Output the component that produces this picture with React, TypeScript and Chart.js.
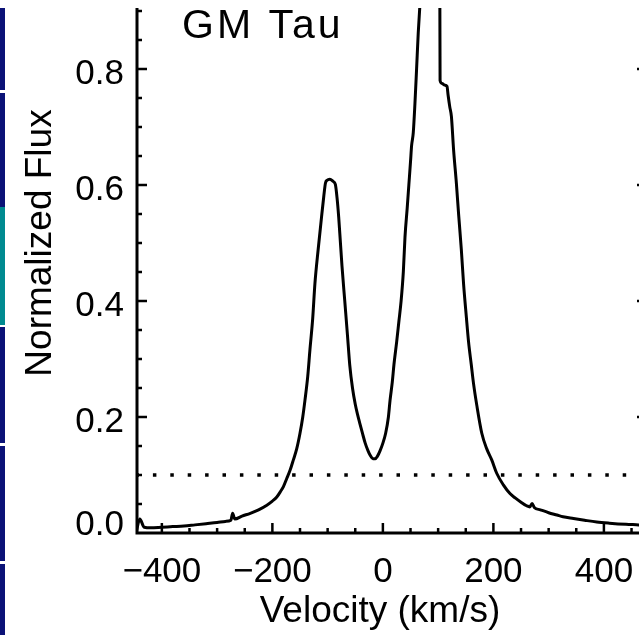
import React, { useEffect, useRef } from "react";
import { Chart, registerables } from "chart.js";

Chart.register(...registerables);

// ---- data ----
const velocity = [
  -446, -440, -432, -420, -400, -380, -360, -340, -320, -300, -285, -275, -272, -268, -255, -240,
  -225, -210, -200, -192, -185, -180, -174, -168, -162, -156, -150, -145, -141, -136, -132, -127,
  -123, -117, -111, -107, -104, -101, -96, -90, -86, -83, -80, -78, -74, -69, -64, -60, -55, -50,
  -46, -42, -37, -32, -27, -23, -18, -14, -10, -5, 0, 5, 10, 13, 17, 20, 25, 29, 33, 37, 40, 44,
  47, 50, 52, 55, 58, 61, 64, 67, 70, 75, 80, 85, 90, 95, 100, 103, 103.5, 107, 112, 116, 118, 121,
  124, 128, 133, 137, 142, 146, 151, 155, 160, 164, 170, 179, 188, 197, 206, 218, 230, 240, 250,
  260, 266, 270, 274, 285, 300, 315, 326, 345, 365, 387, 410, 440, 463, 480,
];
const flux = [
  0.003, 0.024, 0.010, 0.009, 0.010, 0.011, 0.012, 0.014, 0.016, 0.018, 0.020, 0.022, 0.034, 0.024, 0.029, 0.034,
  0.040, 0.048, 0.055, 0.062, 0.072, 0.080, 0.094, 0.108, 0.126, 0.145, 0.172, 0.200, 0.229, 0.270, 0.316, 0.370,
  0.430, 0.490, 0.545, 0.580, 0.603, 0.608, 0.610, 0.606, 0.601, 0.578, 0.545, 0.517, 0.460, 0.400, 0.340, 0.290, 0.250, 0.222,
  0.205, 0.190, 0.172, 0.155, 0.142, 0.134, 0.128, 0.128, 0.132, 0.142, 0.155, 0.172, 0.200, 0.229, 0.260, 0.290, 0.330, 0.365, 0.400, 0.450, 0.510, 0.560,
  0.600, 0.640, 0.668, 0.690, 0.740, 0.800, 0.862, 0.910, 0.950, 1.020, 1.080, 1.120, 1.120, 1.080, 1.000, 0.950, 0.780, 0.775, 0.772, 0.770, 0.755, 0.735,
  0.718, 0.660, 0.603, 0.550, 0.488, 0.430, 0.373, 0.330, 0.290, 0.258, 0.220, 0.172, 0.145, 0.126, 0.103, 0.083, 0.068, 0.060, 0.053,
  0.047, 0.045, 0.051, 0.044, 0.040, 0.035, 0.031, 0.028, 0.025, 0.022, 0.019, 0.017, 0.015, 0.014, 0.013,
];
const thresholdLevel = 0.1;

const xTickValues = [-400, -200, 0, 200, 400];
const xTickLabels = ["\u2212400", "\u2212200", "0", "200", "400"];
const yTickValues = [0, 0.2, 0.4, 0.6, 0.8];
const yTickLabels = ["0.0", "0.2", "0.4", "0.6", "0.8"];
const xMinorStep = 50;
const yMinorStep = 0.05;

const X_MIN = -445;
const X_MAX = 478;
const Y_MIN = 0;
const Y_MAX = 0.905;

const titleText = "GM Tau";
const xTitle = "Velocity (km/s)";
const yTitle = "Normalized Flux";

const FONT = '"Liberation Sans", Arial, sans-serif';

const axesPlugin = {
  id: "idlAxes",
  afterDraw(chart: any) {
    const { ctx, chartArea: a } = chart;
    const xs = chart.scales.x;
    const ys = chart.scales.y;
    ctx.save();
    ctx.strokeStyle = "#000";
    ctx.fillStyle = "#000";
    ctx.lineCap = "butt";

    // axis lines (left, bottom, right)
    ctx.lineWidth = 3;
    ctx.beginPath();
    ctx.moveTo(a.left, a.top);
    ctx.lineTo(a.left, a.bottom);
    ctx.lineTo(a.right, a.bottom);
    ctx.lineTo(a.right, a.top);
    ctx.stroke();

    // y ticks (inward on both sides)
    ctx.lineWidth = 2.5;
    const yCount = Math.floor((Y_MAX - Y_MIN) / yMinorStep + 1e-6);
    for (let k = 1; k <= yCount; k++) {
      const v = Y_MIN + k * yMinorStep;
      const py = ys.getPixelForValue(v);
      const major = k % 4 === 0;
      const len = major ? 10 : 5;
      ctx.beginPath();
      ctx.moveTo(a.left, py);
      ctx.lineTo(a.left + len, py);
      ctx.moveTo(a.right, py);
      ctx.lineTo(a.right - len, py);
      ctx.stroke();
    }
    // x ticks (inward from bottom)
    const kStart = Math.ceil(X_MIN / xMinorStep);
    const kEnd = Math.floor(X_MAX / xMinorStep);
    for (let k = kStart; k <= kEnd; k++) {
      const v = k * xMinorStep;
      const px = xs.getPixelForValue(v);
      const major = k % 4 === 0;
      const len = major ? 10 : 5;
      ctx.beginPath();
      ctx.moveTo(px, a.bottom);
      ctx.lineTo(px, a.bottom - len);
      ctx.stroke();
    }

    // y tick labels
    ctx.font = `35px ${FONT}`;
    ctx.textAlign = "right";
    ctx.textBaseline = "alphabetic";
    yTickValues.forEach((v, i) => {
      let py = ys.getPixelForValue(v) + 15;
      if (v === 0) py = a.bottom + 2;
      ctx.fillText(yTickLabels[i], a.left - 13, py);
    });
    // x tick labels
    ctx.textAlign = "center";
    xTickValues.forEach((v, i) => {
      const px = xs.getPixelForValue(v);
      ctx.fillText(xTickLabels[i], px, a.bottom + 49);
    });

    // axis titles
    ctx.font = `37px ${FONT}`;
    ctx.textAlign = "center";
    ctx.fillText(xTitle, 380, 622);
    ctx.save();
    ctx.translate(51, 243);
    ctx.rotate(-Math.PI / 2);
    ctx.fillText(yTitle, 0, 0);
    ctx.restore();

    // panel title
    ctx.font = `41px ${FONT}`;
    ctx.textAlign = "left";
    (ctx as any).letterSpacing = "3px";
    ctx.fillText(titleText, 182, 38);
    (ctx as any).letterSpacing = "0px";
    ctx.restore();
  },
};

const stripeSegments = [
  { top: 8, bottom: 90, color: "#0b1277" },
  { top: 93, bottom: 207, color: "#0b1277" },
  { top: 207, bottom: 325, color: "#008a90" },
  { top: 327, bottom: 443, color: "#0b1277" },
  { top: 446, bottom: 561, color: "#0b1277" },
  { top: 564, bottom: 635, color: "#0b1277" },
];

export default function App() {
  const canvasRef = useRef<HTMLCanvasElement | null>(null);

  useEffect(() => {
    const canvas = canvasRef.current;
    if (!canvas) return;
    const spectrum = velocity.map((v, i) => ({ x: v, y: flux[i] }));
    const threshold = [
      { x: X_MIN, y: thresholdLevel },
      { x: X_MAX, y: thresholdLevel },
    ];
    const chart = new Chart(canvas, {
      type: "line",
      data: {
        datasets: [
          {
            data: spectrum,
            borderColor: "#000",
            borderWidth: 3,
            pointRadius: 0,
            cubicInterpolationMode: "monotone",
            borderJoinStyle: "round",
            fill: false,
          },
          {
            data: threshold,
            borderColor: "#000",
            borderWidth: 3.5,
            borderDash: [3.5, 13.9],
            borderDashOffset: 1.5,
            pointRadius: 0,
            fill: false,
          },
        ],
      },
      options: {
        animation: false,
        responsive: false,
        events: [],
        layout: { padding: { left: 137, top: 8, right: 13, bottom: 102 } },
        plugins: { legend: { display: false }, tooltip: { enabled: false } },
        scales: {
          x: { type: "linear", min: X_MIN, max: X_MAX, display: false },
          y: { type: "linear", min: Y_MIN, max: Y_MAX, display: false },
        },
      },
      plugins: [axesPlugin],
    });
    return () => chart.destroy();
  }, []);

  return (
    <div
      style={{
        position: "absolute",
        left: 0,
        top: 0,
        width: 639,
        height: 635,
        overflow: "hidden",
        background: "#fff",
      }}
    >
      <canvas
        ref={canvasRef}
        width={660}
        height={635}
        style={{ position: "absolute", left: 0, top: 0, width: 660, height: 635 }}
      />
      {stripeSegments.map((s, i) => (
        <div
          key={i}
          style={{
            position: "absolute",
            left: 0,
            top: s.top,
            width: 5,
            height: s.bottom - s.top,
            background: s.color,
          }}
        />
      ))}
    </div>
  );
}
